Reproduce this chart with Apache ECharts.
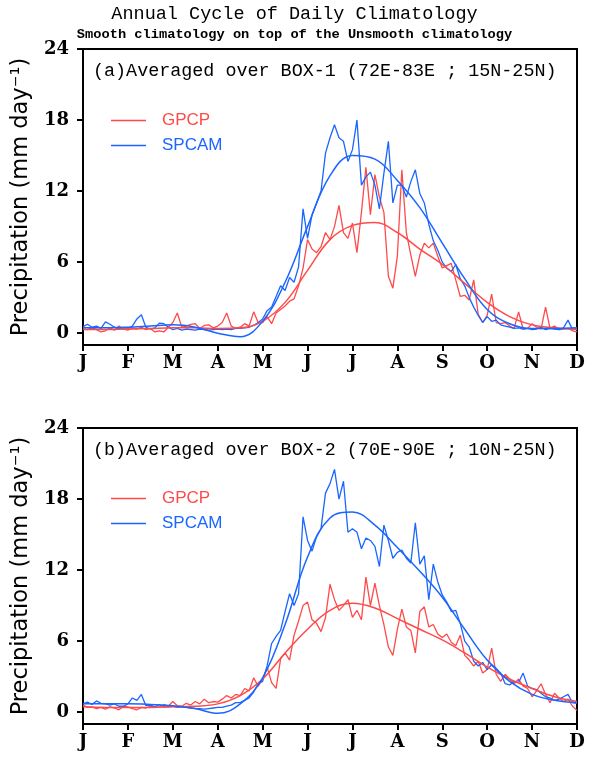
<!DOCTYPE html>
<html>
<head>
<meta charset="utf-8">
<script src="https://cdn.jsdelivr.net/npm/echarts@6/dist/echarts.min.js"></script>
<style>
html,body{margin:0;padding:0;background:#fff;}
#chart{width:589px;height:758px;}
</style>
</head>
<body>
<div id="chart"></div>
<script>
// Month tick labels (12 equally spaced ticks, J ... D)
const MONTHS = ['J','F','M','A','M','J','J','A','S','O','N','D'];
const Y_TICKS = [0, 6, 12, 18, 24];
// Sampling of the curves along the month axis (axis units)
const STEP_DAILY = 0.1;
const STEP_SMOOTH = 0.5;

// Panel (a) BOX-1
const GPCP_A_DAILY = [
  0.35,0.3,0.45,0.3,0.1,0.2,0.45,0.25,0.6,0.35,
  0.25,0.4,0.35,0.5,0.3,0.4,0.1,0.2,0.1,0.5,
  0.9,1.7,0.5,0.6,0.75,0.8,0.4,0.65,0.7,0.45,
  0.6,0.9,1.7,0.6,0.4,0.5,0.8,0.6,1.8,0.9,
  0.9,1.4,0.8,1.7,2.0,2.3,2.7,2.9,4.0,5.5,
  7.9,7.1,6.8,7.3,8.5,7.9,9.0,10.8,8.5,8.0,
  9.3,6.8,10.2,14.0,10.0,13.4,11.5,10.2,4.8,3.8,
  6.5,13.8,8.5,6.6,4.8,6.6,7.6,7.2,7.6,6.5,
  5.5,5.7,5.9,4.5,3.1,3.2,2.8,4.5,1.6,0.9,
  1.5,3.3,0.9,0.8,0.9,0.6,0.4,1.8,0.35,0.4,
  0.8,0.5,0.35,2.2,0.4,0.6,0.3,0.35,0.4,0.2,0.1
];
const SPCAM_A_DAILY = [
  0.55,0.75,0.5,0.6,0.4,0.95,0.75,0.5,0.4,0.45,
  0.4,0.6,1.2,1.55,0.5,0.35,0.45,0.85,0.8,0.5,
  0.3,0.4,0.25,0.35,0.3,0.25,0.35,0.3,0.25,0.3,
  0.35,0.3,0.35,0.3,0.4,0.4,0.45,0.5,0.65,0.9,
  1.2,1.9,2.2,3.1,4.0,3.6,4.7,4.3,5.6,10.5,
  8.0,10.0,11.0,12.0,15.2,16.5,17.6,16.5,16.2,14.5,
  15.5,18.0,12.5,13.2,13.6,12.5,10.5,13.5,16.2,11.0,
  12.5,12.5,11.5,12.8,13.8,11.8,11.0,9.2,7.8,7.0,
  6.0,5.5,5.2,5.8,4.6,4.0,3.0,2.2,1.5,0.9,
  1.4,1.0,1.1,0.7,0.6,0.5,0.4,0.45,0.35,0.4,
  0.3,0.35,0.5,0.3,0.4,0.35,0.3,0.45,1.1,0.3,0.4
];
const GPCP_A_SMOOTH = [0.3,0.3,0.35,0.4,0.45,0.45,0.4,0.45,1.0,2.6,5.3,7.9,9.1,9.35,8.5,7.1,5.8,4.2,2.6,1.4,0.7,0.45,0.3];
const SPCAM_A_SMOOTH = [0.45,0.45,0.5,0.6,0.7,0.5,0.0,-0.3,1.0,4.3,9.0,13.3,15.0,14.7,12.9,10.6,7.6,4.6,2.0,0.8,0.4,0.4,0.45];

// Panel (b) BOX-2
const GPCP_B_DAILY = [
  0.6,0.4,0.45,0.3,0.4,0.25,0.45,0.35,0.2,0.5,
  0.45,0.3,0.2,0.4,0.35,0.5,0.4,0.45,0.65,0.5,
  0.9,0.55,0.5,0.75,0.6,0.9,0.7,1.1,0.8,0.9,
  0.85,1.1,1.4,1.2,1.5,1.4,2.0,1.8,2.9,2.2,
  2.8,3.8,2.5,2.0,4.5,5.0,4.4,6.5,7.7,9.0,
  9.3,7.8,7.5,6.8,8.0,10.8,9.5,8.6,9.0,9.5,
  8.0,8.6,7.8,11.4,9.0,10.9,9.0,7.4,5.5,4.8,
  7.0,8.7,7.2,6.9,5.0,8.5,8.9,7.2,7.4,6.6,
  6.3,6.6,5.9,5.6,6.5,4.8,4.4,3.9,4.3,3.3,
  3.6,5.4,3.2,2.6,3.2,2.8,2.4,2.8,2.2,2.0,
  1.3,1.8,2.4,1.5,0.8,1.6,1.2,0.9,1.1,0.5,0.15
];
const SPCAM_B_DAILY = [
  0.7,0.85,0.65,0.95,0.75,0.7,0.6,0.7,0.5,0.5,
  0.7,1.2,1.0,1.5,0.55,0.6,0.45,0.65,0.45,0.45,
  0.5,0.4,0.45,0.4,0.35,0.3,0.3,0.25,0.3,0.35,
  0.4,0.4,0.5,0.6,0.8,0.8,1.0,1.2,1.7,2.4,
  2.6,3.9,5.8,6.4,6.9,8.5,10.0,9.0,10.0,16.5,
  14.5,13.6,14.8,15.5,18.5,19.3,20.5,18.0,19.5,15.2,
  15.5,15.2,13.8,14.7,14.5,14.0,12.3,15.8,14.5,13.0,
  13.5,13.7,13.0,12.6,16.0,12.5,13.2,9.5,12.5,11.0,
  9.9,9.3,8.5,8.6,7.5,6.0,5.5,4.3,3.9,4.2,
  3.6,4.0,3.7,3.3,2.4,2.3,2.6,2.5,3.3,2.2,
  2.0,1.9,1.6,1.3,1.2,1.0,1.1,1.3,1.5,0.8,0.75
];
const GPCP_B_SMOOTH = [0.45,0.4,0.4,0.4,0.45,0.5,0.7,1.4,2.8,5.0,7.0,8.6,9.2,8.8,7.9,7.0,6.1,5.0,3.8,2.8,2.0,1.3,0.9];
const SPCAM_B_SMOOTH = [0.7,0.7,0.7,0.65,0.55,0.3,-0.1,0.7,2.9,7.4,13.1,16.4,16.9,15.8,13.9,11.9,9.7,7.0,4.4,2.6,1.5,1.0,0.8];

const TITLE = 'Annual Cycle of Daily Climatology';
const SUBTITLE = 'Smooth climatology on top of the Unsmooth climatology';
const PANEL_LABELS = ['(a)Averaged over BOX-1 (72E-83E ; 15N-25N)', '(b)Averaged over BOX-2 (70E-90E ; 10N-25N)'];
const Y_NAME = 'Precipitation (mm day\u207B\u00B9)';

const RED = '#ff4a4a';
const BLUE = '#1a66ff';

function pairs(arr, step) {
  return arr.map((v, i) => [Math.round(i * step * 100) / 100, v]);
}

const GRID_TOPS = [49, 428];
const PLOT_H = 296;

const chart = echarts.init(document.getElementById('chart'), null, {renderer: 'canvas'});

const grids = GRID_TOPS.map(t => ({
  left: 83, top: t, width: 494, height: PLOT_H,
  show: true, borderColor: '#000', borderWidth: 2, backgroundColor: 'transparent'
}));

const xAxes = [0, 1].map(g => ({
  type: 'value', gridIndex: g, min: 0, max: 11, interval: 1,
  axisLine: {show: true, onZero: false, lineStyle: {color: '#000', width: 2}},
  axisTick: {show: true, inside: false, length: 6, lineStyle: {color: '#000', width: 2}},
  axisLabel: {
    formatter: v => MONTHS[Math.round(v)] || '',
    showMinLabel: true, showMaxLabel: true,
    fontFamily: 'DejaVu Serif', fontWeight: 'bold', fontSize: 18, color: '#000', margin: 9
  },
  splitLine: {show: false}
}));

const yAxes = [0, 1].map(g => ({
  type: 'value', gridIndex: g, min: -1, max: 24,
  name: Y_NAME, nameLocation: 'middle', nameGap: 50,
  nameTextStyle: {fontFamily: 'DejaVu Sans', fontSize: 22.5, color: '#000'},
  axisLine: {show: true, lineStyle: {color: '#000', width: 2}},
  axisTick: {show: true, inside: false, length: 6, customValues: Y_TICKS, lineStyle: {color: '#000', width: 2}},
  axisLabel: {
    customValues: Y_TICKS,
    fontFamily: 'DejaVu Serif', fontWeight: 'bold', fontSize: 18, color: '#000', margin: 14
  },
  splitLine: {show: false}
}));

function lineSeries(name, data, step, color, g, width, smooth) {
  return {
    type: 'line', name: name, xAxisIndex: g, yAxisIndex: g,
    data: pairs(data, step), symbol: 'none', smooth: smooth,
    lineStyle: {color: color, width: width}, itemStyle: {color: color},
    clip: true, animation: false
  };
}

const series = [
  lineSeries('GPCP', GPCP_A_DAILY, STEP_DAILY, RED, 0, 1.3, false),
  lineSeries('SPCAM', SPCAM_A_DAILY, STEP_DAILY, BLUE, 0, 1.3, false),
  lineSeries('GPCP', GPCP_A_SMOOTH, STEP_SMOOTH, RED, 0, 1.5, 0.4),
  lineSeries('SPCAM', SPCAM_A_SMOOTH, STEP_SMOOTH, BLUE, 0, 1.5, 0.4),
  lineSeries('GPCP', GPCP_B_DAILY, STEP_DAILY, RED, 1, 1.3, false),
  lineSeries('SPCAM', SPCAM_B_DAILY, STEP_DAILY, BLUE, 1, 1.3, false),
  lineSeries('GPCP', GPCP_B_SMOOTH, STEP_SMOOTH, RED, 1, 1.5, 0.4),
  lineSeries('SPCAM', SPCAM_B_SMOOTH, STEP_SMOOTH, BLUE, 1, 1.5, 0.4)
];

const legends = [112, 490].map(t => ({
  orient: 'vertical', left: 111, top: t, padding: 0,
  icon: 'rect', itemWidth: 35, itemHeight: 1.5, itemGap: 8,
  selectedMode: false,
  textStyle: {fontFamily: 'Liberation Sans', fontSize: 17, lineHeight: 17, padding: [0, 0, 0, 11]},
  data: [
    {name: 'GPCP', textStyle: {color: RED}},
    {name: 'SPCAM', textStyle: {color: BLUE}}
  ]
}));

chart.setOption({
  animation: false,
  backgroundColor: '#fff',
  title: [
    {
      text: TITLE, left: 'center', top: 5, padding: 0,
      textStyle: {fontFamily: 'Liberation Mono', fontSize: 18.5, fontWeight: 'normal', color: '#000'}
    },
    {
      text: SUBTITLE, left: 'center', top: 28, padding: 0,
      textStyle: {fontFamily: 'Liberation Mono', fontSize: 13.7, fontWeight: 'bold', color: '#000'}
    },
    {
      text: PANEL_LABELS[0], left: 88, top: 57,
      textStyle: {fontFamily: 'Liberation Mono', fontSize: 18.4, fontWeight: 'normal', color: '#000'}
    },
    {
      text: PANEL_LABELS[1], left: 88, top: 436,
      textStyle: {fontFamily: 'Liberation Mono', fontSize: 18.4, fontWeight: 'normal', color: '#000'}
    }
  ],
  legend: legends,
  grid: grids,
  xAxis: xAxes,
  yAxis: yAxes,
  series: series
});
</script>
</body>
</html>
